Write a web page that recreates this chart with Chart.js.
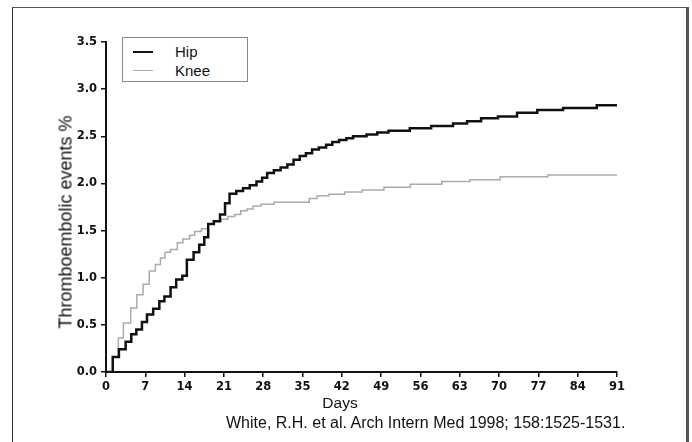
<!DOCTYPE html>
<html>
<head>
<meta charset="utf-8">
<script src="https://cdn.jsdelivr.net/npm/chart.js@4.4.1/dist/chart.umd.min.js"></script>
<style>
  body { margin: 0; background: #fff; }
  #wrap { position: relative; width: 692px; height: 442px; overflow: hidden; font-family: "Liberation Sans", Arial, sans-serif; color: #111; }
  #frame { position: absolute; left: 12px; top: 7px; width: 673px; height: 460px; border-left: 1px solid #333; border-top: 1px solid #555; border-right: 3px solid #555; }
  canvas { position: absolute; left: 0; top: 0; }
  #legend { position: absolute; left: 122px; top: 37px; width: 124px; height: 43px; border: 1px solid #888; background: #fff; }
  .item { position: absolute; left: 0; height: 18px; width: 120px; }
  .swatch { position: absolute; left: 10px; top: 8px; width: 20px; }
  .lbl { position: absolute; left: 52px; top: 0; font-size: 15px; line-height: 18px; }
  .txt { position: absolute; white-space: nowrap; }
</style>
</head>
<body>
<div id="wrap">
  <div id="frame"></div>
  <canvas id="chart" width="692" height="442"></canvas>
  <div id="legend"></div>
  <div class="txt" style="left:66px; top:222px; font-size:18px; font-weight:normal; transform: translate(-50%, -50%) rotate(-90deg);">Thromboembolic events %</div>
  <div class="txt" style="left:340px; top:403px; font-size:15.5px; transform: translate(-50%, -50%);">Days</div>
  <div class="txt" style="left:226px; top:423px; font-size:16px; transform: translate(0, -50%);">White, R.H. et al. Arch Intern Med 1998; 158:1525-1531.</div>
</div>
<script>
// Kaplan-Meier style cumulative event curves
const seriesNames = ['Hip', 'Knee'];
const seriesColors = ['#111111', '#aaaaaa'];
const seriesWidths = [2.5, 1.5];

const hipDays = [0, 1.2, 2.3, 3.5, 4.5, 5.4, 6.4, 7.3, 8.4, 9.5, 10.4, 11.5, 12.5, 13.6, 14.4, 15.6, 16.6, 17.5, 18.2, 19.2, 20.3, 21.2, 22.0, 23.2, 24.4, 25.6, 26.8, 27.8, 28.7, 29.9, 31.1, 32.3, 33.4, 34.5, 35.6, 36.7, 37.9, 39.2, 40.3, 41.5, 42.8, 44.0, 46.4, 48.3, 50.3, 54.1, 57.9, 61.8, 64.3, 66.8, 69.8, 73.2, 76.8, 81.4, 87.4, 91];
const hipPct = [0, 0.16, 0.24, 0.32, 0.40, 0.45, 0.53, 0.61, 0.67, 0.75, 0.80, 0.90, 0.98, 1.02, 1.19, 1.27, 1.35, 1.43, 1.57, 1.60, 1.67, 1.79, 1.89, 1.92, 1.95, 1.98, 2.02, 2.06, 2.11, 2.14, 2.17, 2.20, 2.25, 2.29, 2.32, 2.36, 2.38, 2.41, 2.44, 2.46, 2.48, 2.50, 2.52, 2.54, 2.56, 2.585, 2.61, 2.635, 2.66, 2.69, 2.71, 2.75, 2.78, 2.80, 2.83, 2.83];

const kneeDays = [0, 1.2, 2.2, 3.1, 4.4, 5.5, 6.6, 7.7, 8.8, 9.7, 10.5, 11.5, 12.7, 13.7, 14.9, 15.8, 17.0, 18.2, 19.3, 20.5, 21.7, 22.9, 24.0, 25.1, 26.2, 27.6, 29.9, 36.2, 37.6, 39.7, 42.5, 45.6, 49.5, 54.2, 59.8, 64.8, 70.2, 78.7, 91];
const kneePct = [0, 0.16, 0.36, 0.52, 0.68, 0.82, 0.93, 1.07, 1.14, 1.21, 1.27, 1.30, 1.37, 1.41, 1.45, 1.49, 1.52, 1.57, 1.60, 1.62, 1.65, 1.67, 1.71, 1.73, 1.76, 1.78, 1.80, 1.84, 1.87, 1.885, 1.91, 1.93, 1.96, 1.99, 2.02, 2.04, 2.07, 2.09, 2.09];

const xTickStep = 7;
const yTickStep = 0.5;

function toPoints(days, values) {
    return days.map((d, i) => ({ x: d, y: values[i] }));
}

const seriesData = [toPoints(hipDays, hipPct), toPoints(kneeDays, kneePct)];

const datasets = seriesNames.map((name, i) => ({
    label: name,
    data: seriesData[i],
    borderColor: seriesColors[i],
    borderWidth: seriesWidths[i],
    stepped: true,
    pointRadius: 0,
    fill: false
}));

// simple legend box in the top-left corner of the plot
const legend = document.getElementById('legend');
seriesNames.forEach((name, i) => {
    const item = document.createElement('div');
    item.className = 'item';
    item.style.top = (i === 0 ? 5 : 24) + 'px';
    item.innerHTML = '<div class="swatch" style="border-top:' + seriesWidths[i] + 'px solid ' + seriesColors[i] + '"></div>' +
        '<div class="lbl">' + name + '</div>';
    legend.appendChild(item);
});

const tickFont = { family: '"DejaVu Sans", sans-serif', size: 11.5, weight: 'bold' };

new Chart(document.getElementById('chart'), {
    type: 'line',
    data: { datasets: datasets },
    options: {
        responsive: false,
        animation: false,
        layout: { padding: { top: 42, right: 75, bottom: 0, left: 0 } },
        plugins: { legend: { display: false }, tooltip: { enabled: false } },
        scales: {
            x: {
                type: 'linear',
                min: 0,
                max: 91,
                afterFit: s => { s.height = 70; },
                ticks: { stepSize: xTickStep, color: '#111', font: tickFont, padding: 3, maxRotation: 0 },
                grid: { drawOnChartArea: false, drawTicks: true, tickLength: 5, color: '#111', lineWidth: 1.5 },
                border: { display: true, color: '#111', width: 2 }
            },
            y: {
                min: 0,
                max: 3.5,
                afterFit: s => { s.width = 106; },
                ticks: { stepSize: yTickStep, color: '#111', font: tickFont, padding: 4, callback: v => v.toFixed(1) },
                grid: { drawOnChartArea: false, drawTicks: true, tickLength: 5, color: '#111', lineWidth: 1.5 },
                border: { display: true, color: '#111', width: 2 }
            }
        }
    }
});
</script>
</body>
</html>
